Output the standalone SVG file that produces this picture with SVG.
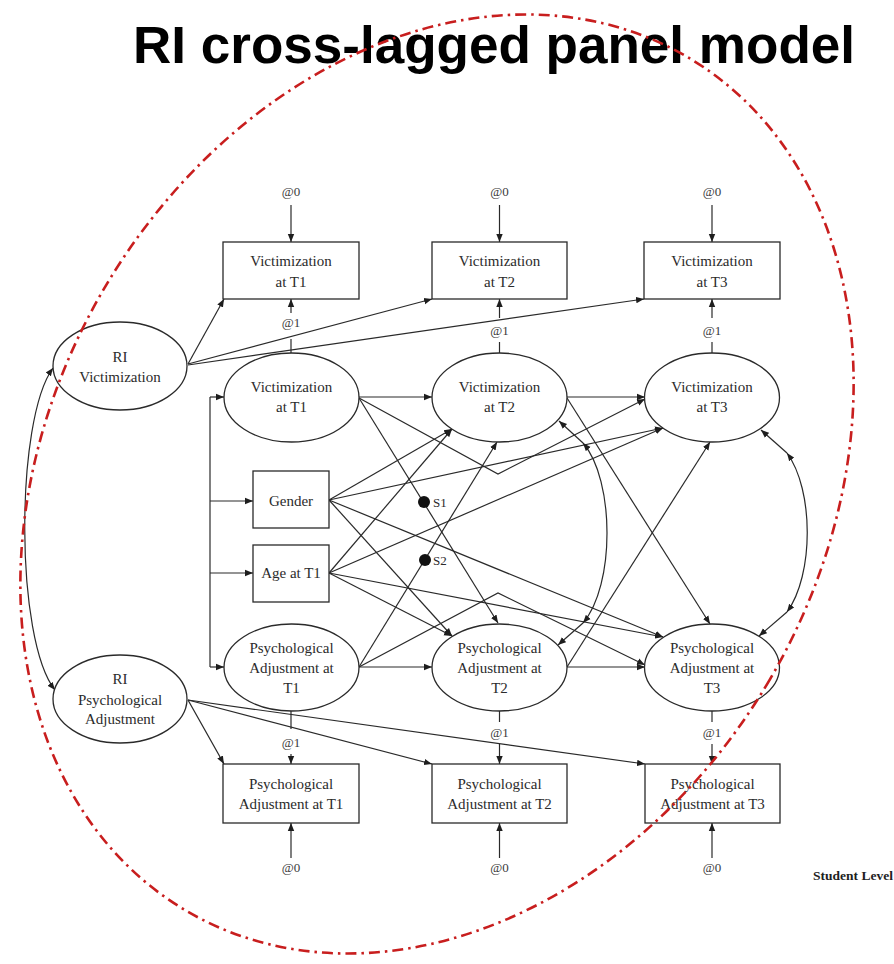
<svg xmlns="http://www.w3.org/2000/svg" width="894" height="964" viewBox="0 0 894 964">
  <style>
    .lbl { font-family: "Liberation Serif", "Times New Roman", serif; font-size: 15px; fill: #2b2b2b; text-anchor: middle; }
    .fix { font-family: "Liberation Serif", "Times New Roman", serif; font-size: 13px; fill: #3a3a3a; text-anchor: middle; }
    .path-lbl { font-family: "Liberation Serif", "Times New Roman", serif; font-size: 13px; fill: #2b2b2b; }
    .shape { fill: #ffffff; stroke: #2a2a2a; stroke-width: 1.3; }
    .arrow { marker-end: url(#ah); }
    .both { marker-start: url(#ah); marker-end: url(#ah); }
  </style>
  <defs>
    <marker id="ah" viewBox="0 0 10 10" refX="10" refY="5" markerWidth="8" markerHeight="8" markerUnits="userSpaceOnUse" orient="auto-start-reverse">
      <path d="M0,1 L10,5 L0,9 z" fill="#1e1e1e"/>
    </marker>
  </defs>

  <rect width="894" height="964" fill="#ffffff"/>

  <!-- connectors -->
  <g id="connectors" fill="none" stroke="#2a2a2a" stroke-width="1.2">
    <!-- residuals fixed at 0 (top) -->
    <path class="arrow" d="M291,205 V242"/>
    <path class="arrow" d="M499.5,205 V242"/>
    <path class="arrow" d="M712,205 V242"/>
    <!-- loadings fixed at 1 (victimization) -->
    <path d="M291,353 V339"/>
    <path class="arrow" d="M291,313 V299"/>
    <path d="M499.5,353 V342"/>
    <path class="arrow" d="M499.5,318 V299"/>
    <path d="M712,353 V342"/>
    <path class="arrow" d="M712,318 V299"/>
    <!-- loadings fixed at 1 (adjustment) -->
    <path d="M291,711 V729"/>
    <path class="arrow" d="M291,754 V764"/>
    <path d="M499.5,711 V722"/>
    <path class="arrow" d="M499.5,744 V764"/>
    <path d="M712,711 V722"/>
    <path class="arrow" d="M712,744 V764"/>
    <!-- residuals fixed at 0 (bottom) -->
    <path class="arrow" d="M291,858 V823"/>
    <path class="arrow" d="M499.5,858 V823"/>
    <path class="arrow" d="M712,858 V823"/>

    <!-- random intercept loadings -->
    <path class="arrow" d="M188,364 L224,299"/>
    <path class="arrow" d="M188,364 L432,299"/>
    <path class="arrow" d="M188,365 L644,299"/>
    <path class="arrow" d="M188,700 L224,764"/>
    <path class="arrow" d="M188,700 L432,764"/>
    <path class="arrow" d="M188,700 L645,764"/>
    <!-- random intercept covariance -->
    <path class="both" d="M53,368 C15,420 15,640 55,690"/>

    <!-- covariate bracket -->
    <path d="M210,397 V667"/>
    <path class="arrow" d="M210,397 H224"/>
    <path class="arrow" d="M210,501 H253"/>
    <path class="arrow" d="M210,573 H253"/>
    <path class="arrow" d="M210,667 H224"/>

    <!-- autoregressive paths -->
    <path class="arrow" d="M359,397 H432"/>
    <path class="arrow" d="M567,397 H645"/>
    <path class="arrow" d="M359,667 H432"/>
    <path class="arrow" d="M567,667 H645"/>
    <!-- lag-2 paths routed below / above T2 -->
    <path class="arrow" d="M359,398 L498,474 L645,399"/>
    <path class="arrow" d="M359,667 L498,593 L645,665"/>

    <!-- cross-lagged paths -->
    <path class="arrow" d="M359,398 L498,623"/>
    <path class="arrow" d="M359,667 L497,442"/>
    <path class="arrow" d="M567,398 L710,624"/>
    <path class="arrow" d="M567,667 L710,442"/>

    <!-- gender effects -->
    <path class="arrow" d="M329,500 L452,429"/>
    <path class="arrow" d="M329,500 L663,428"/>
    <path class="arrow" d="M329,500 L452,636"/>
    <path class="arrow" d="M329,500 L663,637"/>
    <!-- age effects -->
    <path class="arrow" d="M329,573 L452,429"/>
    <path class="arrow" d="M329,573 L663,428"/>
    <path class="arrow" d="M329,573 L452,636"/>
    <path class="arrow" d="M329,573 L663,637"/>

    <!-- residual covariance at T2 -->
    <path class="arrow" d="M583,443 L559,421"/>
    <path class="both" d="M583,443 C615,480 615,586 583,623"/>
    <path class="arrow" d="M583,623 L558,645"/>
    <!-- residual covariance at T3 -->
    <path class="arrow" d="M787,453 L761,430"/>
    <path class="both" d="M787,453 C814,490 814,575 787,612"/>
    <path class="arrow" d="M787,612 L759,636"/>
  </g>

  <!-- fixed parameter labels -->
  <g id="fixed-labels">
    <text class="fix" x="291" y="196">@0</text>
    <text class="fix" x="499.5" y="196">@0</text>
    <text class="fix" x="712" y="196">@0</text>
    <text class="fix" x="291" y="327">@1</text>
    <text class="fix" x="499.5" y="335">@1</text>
    <text class="fix" x="712" y="335">@1</text>
    <text class="fix" x="291" y="747">@1</text>
    <text class="fix" x="499.5" y="737">@1</text>
    <text class="fix" x="712" y="737">@1</text>
    <text class="fix" x="291" y="872">@0</text>
    <text class="fix" x="499.5" y="872">@0</text>
    <text class="fix" x="712" y="872">@0</text>
  </g>

  <!-- observed victimization -->
  <g id="obs-vict-t1">
    <rect class="shape" x="223" y="242" width="136" height="57"/>
    <text class="lbl" x="291" y="266">Victimization</text>
    <text class="lbl" x="291" y="287">at T1</text>
  </g>
  <g id="obs-vict-t2">
    <rect class="shape" x="432" y="242" width="135" height="57"/>
    <text class="lbl" x="499.5" y="266">Victimization</text>
    <text class="lbl" x="499.5" y="287">at T2</text>
  </g>
  <g id="obs-vict-t3">
    <rect class="shape" x="644" y="242" width="136" height="57"/>
    <text class="lbl" x="712" y="266">Victimization</text>
    <text class="lbl" x="712" y="287">at T3</text>
  </g>

  <!-- random intercepts -->
  <g id="ri-vict">
    <ellipse class="shape" cx="120" cy="366" rx="67" ry="44"/>
    <text class="lbl" x="120" y="362">RI</text>
    <text class="lbl" x="120" y="382">Victimization</text>
  </g>
  <g id="ri-adj">
    <ellipse class="shape" cx="120" cy="699" rx="67" ry="44"/>
    <text class="lbl" x="120" y="684">RI</text>
    <text class="lbl" x="120" y="705">Psychological</text>
    <text class="lbl" x="120" y="724">Adjustment</text>
  </g>

  <!-- latent victimization -->
  <g id="vict-t1">
    <ellipse class="shape" cx="291.5" cy="397.5" rx="67.5" ry="44.5"/>
    <text class="lbl" x="291.5" y="392">Victimization</text>
    <text class="lbl" x="291.5" y="412">at T1</text>
  </g>
  <g id="vict-t2">
    <ellipse class="shape" cx="499.5" cy="397.5" rx="67.5" ry="44.5"/>
    <text class="lbl" x="499.5" y="392">Victimization</text>
    <text class="lbl" x="499.5" y="412">at T2</text>
  </g>
  <g id="vict-t3">
    <ellipse class="shape" cx="712" cy="397.5" rx="67.5" ry="44.5"/>
    <text class="lbl" x="712" y="392">Victimization</text>
    <text class="lbl" x="712" y="412">at T3</text>
  </g>

  <!-- covariates -->
  <g id="gender">
    <rect class="shape" x="253" y="471" width="76" height="57"/>
    <text class="lbl" x="291" y="506">Gender</text>
  </g>
  <g id="age-t1">
    <rect class="shape" x="253" y="545" width="76" height="57"/>
    <text class="lbl" x="291" y="578">Age at T1</text>
  </g>

  <!-- labelled paths -->
  <g id="path-s1">
    <circle cx="424" cy="502" r="6" fill="#111111"/>
    <text class="path-lbl" x="433" y="507">S1</text>
  </g>
  <g id="path-s2">
    <circle cx="425" cy="560" r="6" fill="#111111"/>
    <text class="path-lbl" x="433" y="565">S2</text>
  </g>

  <!-- latent psychological adjustment -->
  <g id="adj-t1">
    <ellipse class="shape" cx="291.5" cy="667.5" rx="67.5" ry="43.5"/>
    <text class="lbl" x="291.5" y="653">Psychological</text>
    <text class="lbl" x="291.5" y="673">Adjustment at</text>
    <text class="lbl" x="291.5" y="693">T1</text>
  </g>
  <g id="adj-t2">
    <ellipse class="shape" cx="499.5" cy="667.5" rx="67.5" ry="43.5"/>
    <text class="lbl" x="499.5" y="653">Psychological</text>
    <text class="lbl" x="499.5" y="673">Adjustment at</text>
    <text class="lbl" x="499.5" y="693">T2</text>
  </g>
  <g id="adj-t3">
    <ellipse class="shape" cx="712" cy="667.5" rx="67.5" ry="43.5"/>
    <text class="lbl" x="712" y="653">Psychological</text>
    <text class="lbl" x="712" y="673">Adjustment at</text>
    <text class="lbl" x="712" y="693">T3</text>
  </g>

  <!-- observed psychological adjustment -->
  <g id="obs-adj-t1">
    <rect class="shape" x="223" y="764" width="136" height="59"/>
    <text class="lbl" x="291" y="789">Psychological</text>
    <text class="lbl" x="291" y="809">Adjustment at T1</text>
  </g>
  <g id="obs-adj-t2">
    <rect class="shape" x="432" y="764" width="135" height="59"/>
    <text class="lbl" x="499.5" y="789">Psychological</text>
    <text class="lbl" x="499.5" y="809">Adjustment at T2</text>
  </g>
  <g id="obs-adj-t3">
    <rect class="shape" x="645" y="764" width="135" height="59"/>
    <text class="lbl" x="712.5" y="789">Psychological</text>
    <text class="lbl" x="712.5" y="809">Adjustment at T3</text>
  </g>

  <text id="level" x="813" y="880" font-family="'Liberation Serif', 'Times New Roman', serif" font-size="13.5" font-weight="bold" fill="#1e1e1e">Student Level</text>

  <!-- title -->
  <text id="title" x="133" y="63" font-family="'Liberation Sans', Arial, sans-serif" font-size="51" font-weight="bold" fill="#000000" textLength="722" lengthAdjust="spacingAndGlyphs">RI cross-lagged panel model</text>

  <!-- highlighted model boundary -->
  <ellipse id="boundary" cx="437" cy="484" rx="386" ry="495" transform="rotate(30.4 437 484)" fill="none" stroke="#c81e1e" stroke-width="2.6" stroke-dasharray="11 5 2.5 5"/>
</svg>
